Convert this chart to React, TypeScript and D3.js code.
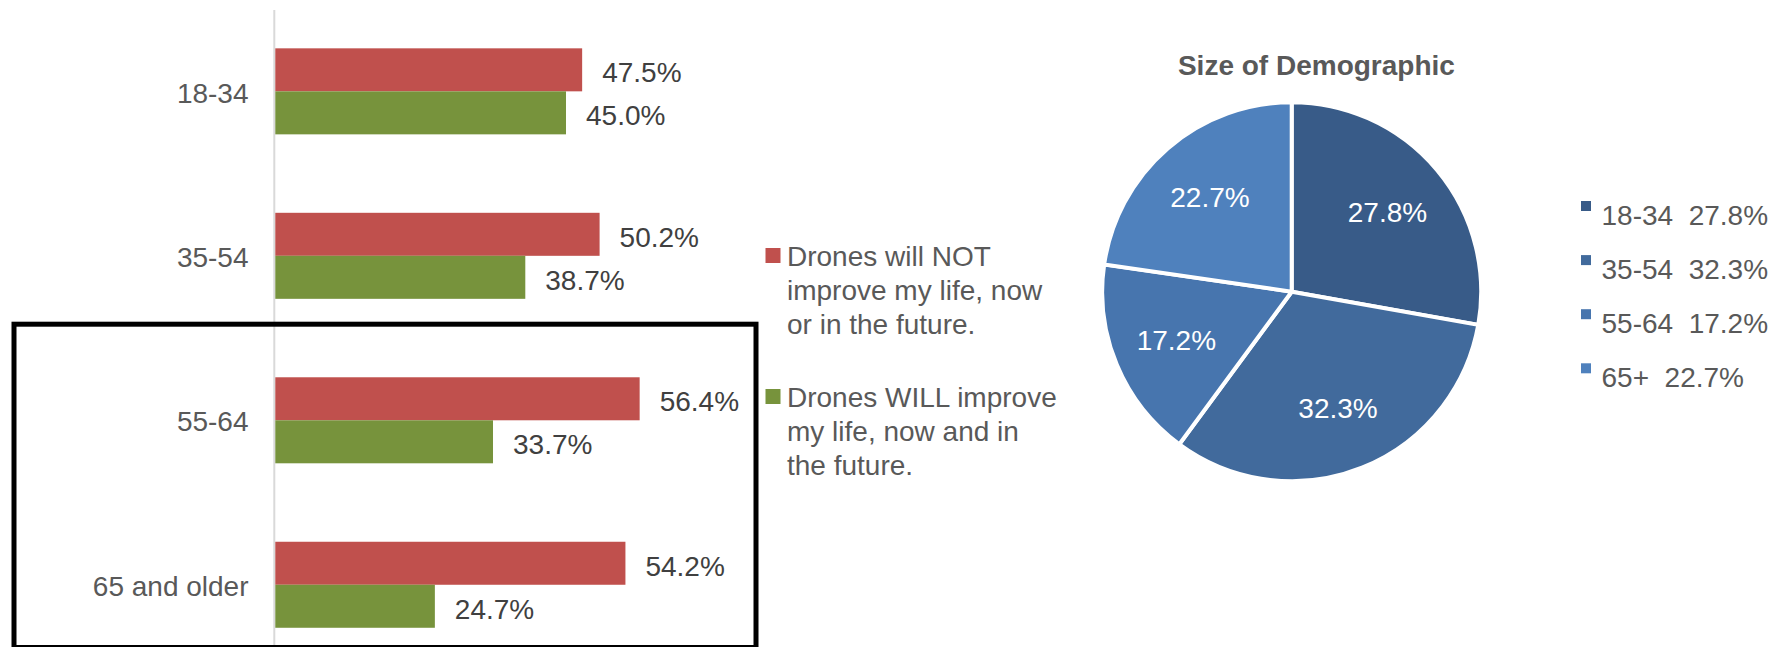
import React from "react";
import * as d3 from "d3";

const categories = ["18-34", "35-54", "55-64", "65 and older"];
const seriesNames = ["notImprove", "willImprove"];
const notImprove = [47.5, 50.2, 56.4, 54.2];
const willImprove = [45.0, 38.7, 33.7, 24.7];
const barLegendLines = [
  ["Drones will NOT", "improve my life, now", "or in the future."],
  ["Drones WILL improve", "my life, now and in", "the future."],
];
const pieLabels = ["18-34", "35-54", "55-64", "65+"];
const pieValues = [27.8, 32.3, 17.2, 22.7];
const pieTitle = "Size of Demographic";

const FONT = "'Liberation Sans', Arial, Helvetica, sans-serif";
const barColors = ["#C0504D", "#77933C"];
const pieColors = ["#385B88", "#416A9C", "#4775AE", "#4F81BD"];

export default function App() {
  const W = 1786;
  const H = 647;

  const y0 = d3
    .scaleBand<string>()
    .domain(categories)
    .range([9.1, 667])
    .paddingInner(0.477)
    .paddingOuter(0.2385);
  const y1 = d3
    .scaleBand<string>()
    .domain(seriesNames)
    .range([0, y0.bandwidth()])
    .padding(0);
  const x = d3.scaleLinear().domain([0, 60]).range([275.3, 662.9]);

  const seriesVals = [notImprove, willImprove];

  // pie
  const cx = 1291.7;
  const cy = 291.7;
  const R = 189.5;
  const pie = d3
    .pie<number>()
    .sort(null)
    .value((d) => d);
  const arcs = pie(pieValues);
  const arcGen = d3.arc<d3.PieArcDatum<number>>().innerRadius(0).outerRadius(R);
  const labelArc = d3
    .arc<d3.PieArcDatum<number>>()
    .innerRadius(125 * 2)
    .outerRadius(0);

  return (
    <svg
      width={W}
      height={H}
      style={{ position: "absolute", left: 0, top: 0, background: "#fff" }}
      fontFamily={FONT}
    >
      <rect x={0} y={0} width={W} height={H} fill="#fff" />
      {/* axis line */}
      <line x1={274.3} x2={274.3} y1={10} y2={H} stroke="#D9D9D9" strokeWidth={2} />
      {categories.map((c, i) => {
        const gy = y0(c)!;
        return (
          <g key={c}>
            <text
              x={248.5}
              y={gy + y0.bandwidth() / 2}
              dy="0.4em"
              textAnchor="end"
              fontSize={28}
              fill="#595959"
            >
              {c}
            </text>
            {seriesNames.map((s, j) => {
              const v = seriesVals[j][i];
              const by = gy + y1(s)!;
              return (
                <g key={s}>
                  <rect
                    x={x(0)}
                    y={by}
                    width={x(v) - x(0)}
                    height={y1.bandwidth()}
                    fill={barColors[j]}
                  />
                  <text
                    x={x(v) + 20}
                    y={by + y1.bandwidth() / 2}
                    dy="0.45em"
                    fontSize={28}
                    fill="#404040"
                  >
                    {v.toFixed(1) + "%"}
                  </text>
                </g>
              );
            })}
          </g>
        );
      })}
      {/* highlight box */}
      <rect
        x={14}
        y={324.2}
        width={742}
        height={323.3}
        fill="none"
        stroke="#000"
        strokeWidth={5}
      />
      {/* bar legend */}
      {barLegendLines.map((lines, i) => {
        const base = i === 0 ? 266 : 407;
        return (
          <g key={i}>
            <rect x={765.5} y={base - 18} width={15} height={15} fill={barColors[i]} />
            {lines.map((ln, k) => (
              <text key={k} x={787} y={base + k * 34} fontSize={28} fill="#595959">
                {ln}
              </text>
            ))}
          </g>
        );
      })}
      {/* pie */}
      <text
        x={1316.4}
        y={75}
        textAnchor="middle"
        fontSize={28}
        fontWeight="bold"
        fill="#595959"
      >
        {pieTitle}
      </text>
      <g transform={`translate(${cx},${cy})`}>
        {arcs.map((a, i) => (
          <path key={i} d={arcGen(a)!} fill={pieColors[i]} stroke="#fff" strokeWidth={4} />
        ))}
        {arcs.map((a, i) => {
          const [lx, ly] = labelArc.centroid(a);
          return (
            <text
              key={i}
              x={lx}
              y={ly}
              dy="0.36em"
              textAnchor="middle"
              fontSize={28}
              fill="#fff"
            >
              {pieValues[i].toFixed(1) + "%"}
            </text>
          );
        })}
      </g>
      {/* pie legend */}
      {pieLabels.map((l, i) => {
        const base = 225 + i * 54.1;
        return (
          <g key={l}>
            <rect x={1581} y={base - 24} width={10} height={10} fill={pieColors[i]} />
            <text
              x={1601.5}
              y={base}
              fontSize={28}
              fill="#595959"
              style={{ whiteSpace: "pre" }}
            >
              {l + "  " + pieValues[i].toFixed(1) + "%"}
            </text>
          </g>
        );
      })}
    </svg>
  );
}
